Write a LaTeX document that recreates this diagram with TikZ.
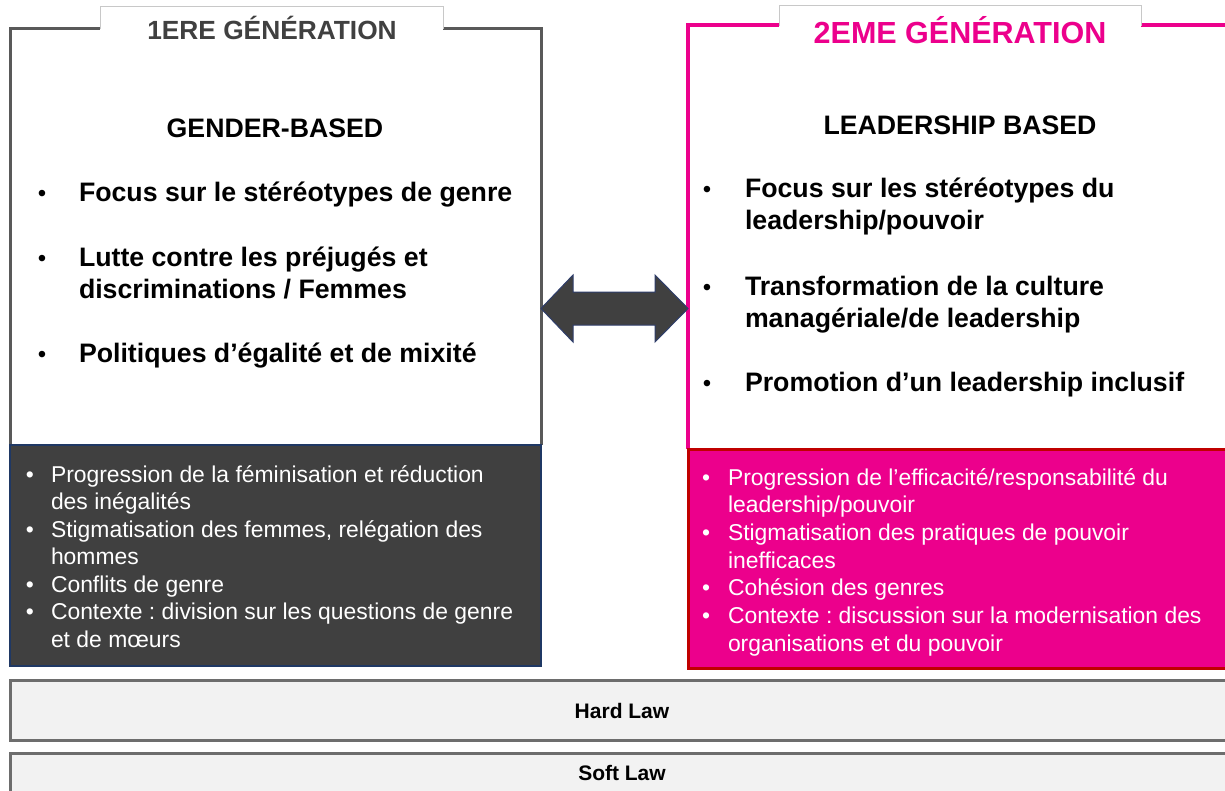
\documentclass[tikz,border=0pt]{standalone}
\usepackage{fontspec}
\setmainfont{Liberation Sans}
\frenchspacing
\definecolor{framegray}{HTML}{595959}
\definecolor{titlegray}{HTML}{404040}
\definecolor{tabline}{HTML}{C8C8C8}
\definecolor{darkfill}{HTML}{404040}
\definecolor{navy}{HTML}{1F3864}
\definecolor{pink}{HTML}{EC008C}
\definecolor{darkred}{HTML}{C00000}
\definecolor{lawfill}{HTML}{F2F2F2}
\definecolor{lawline}{HTML}{6D6D6D}
\definecolor{arrowline}{HTML}{2F3E6B}
\newcommand\myfs[2]{\fontsize{#1}{#2}\selectfont}
\tikzset{
  base/.style={inner sep=0pt, outer sep=0pt},
  bt/.style={base, anchor=base west, font=\myfs{26.7}{32}\bfseries, text=black},
  bb/.style={base, anchor=base, font=\myfs{24}{32}, text=black},
  st/.style={base, anchor=base west, font=\myfs{22.9}{27.5}, text=white},
  sb/.style={base, anchor=base, font=\myfs{22.9}{27.5}, text=white},
  hd/.style={base, anchor=base, font=\myfs{26.7}{32}\bfseries, text=black},
  lawtxt/.style={base, anchor=base, font=\myfs{21}{25}\bfseries, text=black},
  lawbox/.style={fill=lawfill, draw=lawline, line width=3pt},
}
\begin{document}
\begin{tikzpicture}[x=1pt,y=-1pt]
\useasboundingbox (0,0) rectangle (1225,790);
\clip (0,0) rectangle (1225,790);
\fill[white] (0,0) rectangle (1225,790);

% ---- left frame
\draw[framegray, line width=3pt] (10,445) -- (10,28) -- (541,28) -- (541,445);
\fill[white] (100,6) rectangle (443,29.6);
\draw[tabline, line width=1pt] (100,29) -- (100,6) -- (443,6) -- (443,29);
\node[base, anchor=base, font=\myfs{26.3}{30}\bfseries, text=titlegray] (t1) at (272,39) {1ERE GÉNÉRATION};
\draw[fill=darkfill, draw=navy, line width=2pt] (10,445) rectangle (541,666);

% ---- right frame
\draw[pink, line width=3.5pt] (688,449) -- (688,25) -- (1235,25);
\fill[white] (779,5) rectangle (1141,27.2);
\draw[tabline, line width=1pt] (779,26) -- (779,5) -- (1141,5) -- (1141,26);
\node[base, anchor=base, font=\myfs{30.5}{34}\bfseries, text=pink] (t2) at (960,43) {2EME GÉNÉRATION};
\draw[fill=pink, draw=darkred, line width=3pt] (688,449) rectangle (1240,668);

% ---- double arrow
\draw[fill=darkfill, draw=arrowline, line width=1pt, line join=miter]
  (541,308.5) -- (573,275) -- (573,292) -- (655,292) -- (655,275) -- (688,308.5)
  -- (655,342) -- (655,325) -- (573,325) -- (573,342) -- cycle;

% ---- left headings and bullets
\node[hd] (h1) at (275,137) {GENDER-BASED};
\node[bb] (lb1) at (42,201) {•};
\node[bt] (l1) at (79,201) {Focus sur le stéréotypes de genre};
\node[bb] (lb2) at (42,266) {•};
\node[bt] (l2a) at (79,266) {Lutte contre les préjugés et};
\node[bt] (l2b) at (79,298) {discriminations / Femmes};
\node[bb] (lb3) at (42,362) {•};
\node[bt] (l3) at (79,362) {Politiques d’égalité et de mixité};

% ---- right headings and bullets
\node[hd] (h2) at (960,134) {LEADERSHIP BASED};
\node[bb] (rb1) at (707,197) {•};
\node[bt] (r1a) at (745,197) {Focus sur les stéréotypes du};
\node[bt] (r1b) at (745,229) {leadership/pouvoir};
\node[bb] (rb2) at (707,295) {•};
\node[bt] (r2a) at (745,295) {Transformation de la culture};
\node[bt] (r2b) at (745,327) {managériale/de leadership};
\node[bb] (rb3) at (707,391) {•};
\node[bt] (r3) at (745,391) {Promotion d’un leadership inclusif};

% ---- left dark box
\node[sb] (ls1) at (30,482) {•};
\node[st] (lt1a) at (51,482) {Progression de la féminisation et réduction};
\node[st] (lt1b) at (51,509.5) {des inégalités};
\node[sb] (ls2) at (30,537) {•};
\node[st] (lt2a) at (51,537) {Stigmatisation des femmes, relégation des};
\node[st] (lt2b) at (51,564.5) {hommes};
\node[sb] (ls3) at (30,592) {•};
\node[st] (lt3) at (51,592) {Conflits de genre};
\node[sb] (ls4) at (30,619.5) {•};
\node[st] (lt4a) at (51,619.5) {Contexte : division sur les questions de genre};
\node[st] (lt4b) at (51,647) {et de mœurs};

% ---- right pink box
\node[sb] (rs1) at (706,485) {•};
\node[st] (rt1a) at (728,485) {Progression de l’efficacité/responsabilité du};
\node[st] (rt1b) at (728,512.7) {leadership/pouvoir};
\node[sb] (rs2) at (706,540.4) {•};
\node[st] (rt2a) at (728,540.4) {Stigmatisation des pratiques de pouvoir};
\node[st] (rt2b) at (728,568) {inefficaces};
\node[sb] (rs3) at (706,595.8) {•};
\node[st] (rt3) at (728,595.8) {Cohésion des genres};
\node[sb] (rs4) at (706,623.5) {•};
\node[st] (rt4a) at (728,623.5) {Contexte : discussion sur la modernisation des};
\node[st] (rt4b) at (728,651) {organisations et du pouvoir};

% ---- law bars
\draw[lawbox] (10,680) rectangle (1240,740);
\node[lawtxt] (hard) at (622,718) {Hard Law};
\draw[lawbox] (10,753) rectangle (1240,800);
\node[lawtxt] (soft) at (622,780) {Soft Law};
\end{tikzpicture}
\end{document}
